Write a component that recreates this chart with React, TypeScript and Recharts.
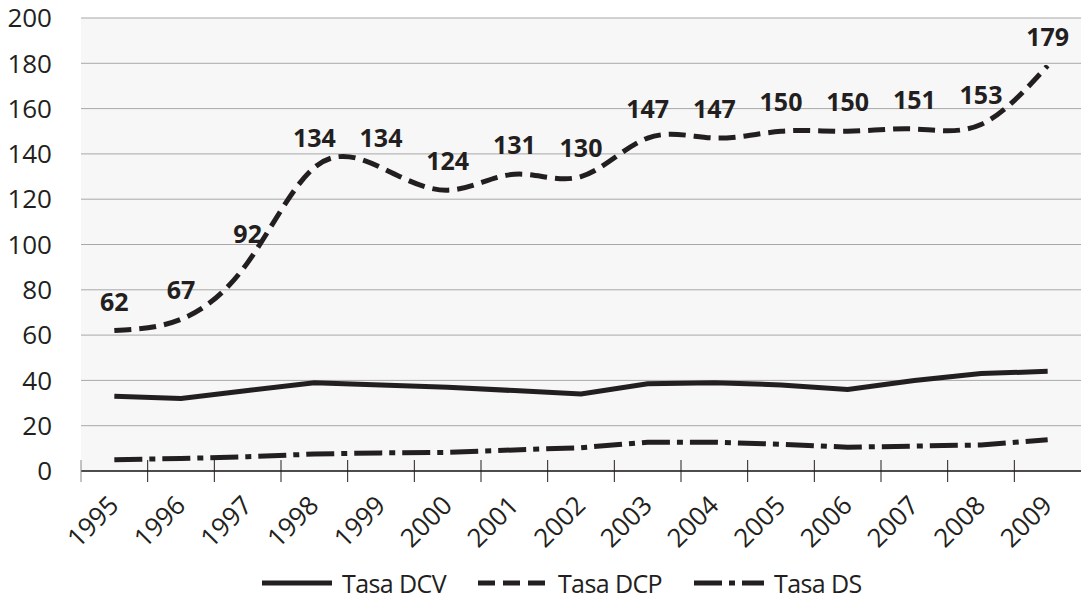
import React from 'react';
import { LineChart, Line, XAxis, YAxis, CartesianGrid, Legend, LabelList } from 'recharts';

const years = ['1995', '1996', '1997', '1998', '1999', '2000', '2001', '2002', '2003', '2004', '2005', '2006', '2007', '2008', '2009'];
const tasaDCV = [33, 32, 35.5, 39, 38, 37, 35.5, 34, 38.5, 39, 38, 36, 40, 43, 44];
const tasaDCP = [62, 67, 92, 134, 134, 124, 131, 130, 147, 147, 150, 150, 151, 153, 179];
const tasaDS = [5, 5.5, 6.3, 7.5, 8, 8.2, 9.3, 10.3, 12.7, 12.7, 11.8, 10.5, 11, 11.5, 13.8];
const yTicks = [0, 20, 40, 60, 80, 100, 120, 140, 160, 180, 200];

const W = 1081;
const H = 601;
const Y_AXIS_W = 81;
const BAND = (W - Y_AXIS_W) / years.length;
const INK = '#231f20';
const FONT = '"Open Sans", sans-serif';

const data = years.map((year, i) => ({
  i,
  year,
  dcv: tasaDCV[i],
  dcp: tasaDCP[i],
  ds: tasaDS[i],
}));

// tick marks sit on the category boundaries, labels in the middle of each band
const boundaryTicks = years.map((_, i) => i - 0.5);

function YearTick(props: any) {
  const { x, y, payload } = props;
  const idx = Math.round(payload.value + 0.5);
  const cx = x + BAND / 2 + 6;
  const ty = y + 36;
  return (
    <g>
      <line x1={x} x2={x} y1={y - 11} y2={y + 11} stroke={idx === 0 ? '#888' : INK} strokeWidth={1} />
      <text
        x={cx}
        y={ty}
        textAnchor="end"
        transform={`rotate(-45, ${cx}, ${ty})`}
        fontSize={26}
        fontFamily={FONT}
        fill={INK}
      >
        {years[idx]}
      </text>
    </g>
  );
}

const legendItems = [
  { label: 'Tasa DCV', dash: undefined as string | undefined },
  { label: 'Tasa DCP', dash: '17 8' },
  { label: 'Tasa DS', dash: '28 7 6 7' },
];

function LegendContent() {
  return (
    <div style={{ display: 'flex', alignItems: 'center', fontFamily: FONT, fontSize: 25, color: INK }}>
      {legendItems.map((it) => (
        <div key={it.label} style={{ display: 'flex', alignItems: 'center', marginRight: 32 }}>
          <svg width={70} height={10} style={{ marginRight: 10 }}>
            <line x1={0} x2={70} y1={5} y2={5} stroke={INK} strokeWidth={5} strokeDasharray={it.dash} />
          </svg>
          <span style={{ lineHeight: '30px', letterSpacing: -0.6 }}>{it.label}</span>
        </div>
      ))}
    </div>
  );
}

export default function App() {
  return (
    <div style={{ position: 'absolute', left: 0, top: 0, width: W, height: H, background: '#fff' }}>
      <LineChart width={W} height={H} data={data} margin={{ top: 18, right: 0, bottom: 0, left: 0 }}>
        <CartesianGrid vertical={false} stroke="#a8a8a8" strokeWidth={1} fill="#f7f7f7" />
        <XAxis
          dataKey="i"
          type="number"
          domain={[-0.5, years.length - 0.5]}
          ticks={boundaryTicks}
          interval={0}
          height={90}
          tickLine={false}
          tickSize={0}
          tickMargin={0}
          axisLine={{ stroke: INK, strokeWidth: 1.5 }}
          tick={<YearTick />}
        />
        <YAxis
          domain={[0, 200]}
          ticks={yTicks}
          interval={0}
          width={Y_AXIS_W}
          axisLine={false}
          tickLine={false}
          tickSize={0}
          tickMargin={29}
          tick={{ fontSize: 26, fontFamily: FONT, fill: INK }}
        />
        <Legend
          verticalAlign="bottom"
          height={40}
          content={<LegendContent />}
          wrapperStyle={{ left: 262, bottom: -7, width: 700 }}
        />
        <Line
          type="linear"
          dataKey="dcv"
          stroke={INK}
          strokeWidth={5}
          dot={false}
          isAnimationActive={false}
        />
        <Line
          type="natural"
          dataKey="dcp"
          stroke={INK}
          strokeWidth={5}
          strokeDasharray="17 8"
          dot={false}
          isAnimationActive={false}
        >
          <LabelList
            dataKey="dcp"
            position="top"
            offset={20}
            style={{ fontSize: 25, fontWeight: 700, fontFamily: FONT, fill: INK }}
          />
        </Line>
        <Line
          type="linear"
          dataKey="ds"
          stroke={INK}
          strokeWidth={5}
          strokeDasharray="28 7 6 7"
          dot={false}
          isAnimationActive={false}
        />
      </LineChart>
    </div>
  );
}
